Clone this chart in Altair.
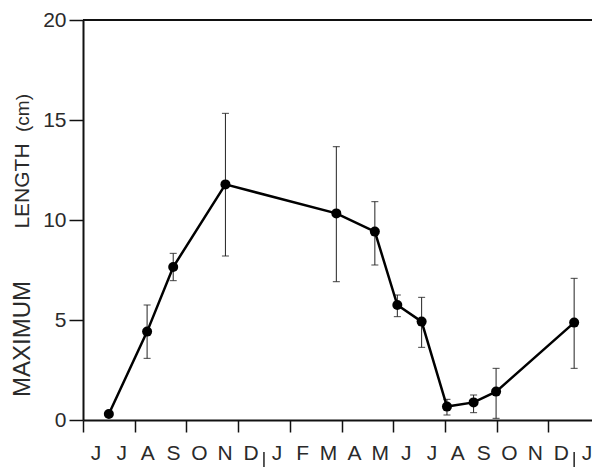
import altair as alt
import pandas as pd

# Data
months = ["J", "J", "A", "S", "O", "N", "D", "J", "F", "M", "A", "M",
          "J", "J", "A", "S", "O", "N", "D", "J"]
x_pos = [1.0, 2.48, 3.49, 5.51, 9.80, 11.29, 12.16, 13.10, 14.08, 15.11, 15.98, 19.0]
length = [0.3, 4.42, 7.65, 11.78, 10.33, 9.42, 5.75, 4.92, 0.67, 0.88, 1.42, 4.87]
err_hi = [0.3, 5.75, 8.33, 15.33, 13.67, 10.92, 6.25, 6.13, 1.03, 1.25, 2.58, 7.08]
err_lo = [0.3, 3.08, 6.97, 8.20, 6.92, 7.75, 5.17, 3.63, 0.25, 0.37, 0.08, 2.58]
year_breaks = [7, 19]
y_ticks = [0, 5, 10, 15, 20]
x_ticks = list(range(0, 20))

W, H = 509, 400
STEP = 25.85
FONT = "Liberation Sans"
TXT = "#2a2a2a"

df = pd.DataFrame({"x": x_pos, "y": length, "hi": err_hi, "lo": err_lo})
df_err = df[df["hi"] > df["lo"]]
df_months = pd.DataFrame({"m": months, "pos": [i + 0.5 for i in range(len(months))]})
df_breaks = pd.DataFrame({"pos": year_breaks})

xs = alt.Scale(domain=[0, W / STEP], nice=False, zero=False)
ys = alt.Scale(domain=[0, 20], nice=False)

x_axis = alt.Axis(values=x_ticks, labels=False, title=None, grid=False,
                  tickSize=12, tickWidth=1.5, tickColor="#111",
                  domainWidth=2, domainColor="#111")
y_axis = alt.Axis(values=y_ticks, title=None, grid=False, tickSize=14,
                  tickWidth=1.5, tickColor="#111", domainWidth=2,
                  domainColor="#111", labelFontSize=21, labelFont=FONT,
                  labelColor=TXT, labelPadding=3)

base = alt.Chart(df)

line = base.mark_line(color="black", strokeWidth=2.5).encode(
    x=alt.X("x:Q", scale=xs, axis=x_axis),
    y=alt.Y("y:Q", scale=ys, axis=y_axis),
)
pts = base.mark_circle(color="black", size=100, opacity=1).encode(
    x=alt.X("x:Q", scale=xs), y=alt.Y("y:Q", scale=ys))

err = alt.Chart(df_err).mark_rule(color="#222", strokeWidth=1).encode(
    x=alt.X("x:Q", scale=xs), y=alt.Y("lo:Q", scale=ys), y2="hi:Q")
cap_hi = alt.Chart(df_err).mark_tick(color="#222", size=7, thickness=1.2,
                                     orient="horizontal").encode(
    x=alt.X("x:Q", scale=xs), y=alt.Y("hi:Q", scale=ys))
cap_lo = alt.Chart(df_err).mark_tick(color="#222", size=7, thickness=1.2,
                                     orient="horizontal").encode(
    x=alt.X("x:Q", scale=xs), y=alt.Y("lo:Q", scale=ys))

month_txt = alt.Chart(df_months).mark_text(
    font=FONT, fontSize=21, color=TXT, baseline="middle", align="center"
).encode(x=alt.X("pos:Q", scale=xs), y=alt.value(434), text="m:N")

breaks = alt.Chart(df_breaks).mark_rule(color="#222", strokeWidth=1.5).encode(
    x=alt.X("pos:Q", scale=xs), y=alt.value(432), y2=alt.value(447))

one = pd.DataFrame({"a": [0]})
top = alt.Chart(one).mark_rule(color="#111", strokeWidth=2).encode(
    x=alt.value(0), x2=alt.value(W), y=alt.value(0))

t1 = alt.Chart(one).mark_text(font=FONT, fontSize=24, color=TXT, angle=270,
                              align="center", baseline="middle").encode(
    x=alt.value(-60), y=alt.value(319), text=alt.value("MAXIMUM"))
t2 = alt.Chart(one).mark_text(font=FONT, fontSize=21, color=TXT, angle=270,
                              align="center", baseline="middle").encode(
    x=alt.value(-60), y=alt.value(166), text=alt.value("LENGTH"))
t3 = alt.Chart(one).mark_text(font=FONT, fontSize=19, color=TXT, angle=270,
                              align="center", baseline="middle").encode(
    x=alt.value(-60), y=alt.value(93), text=alt.value("(cm)"))

chart = alt.layer(top, err, cap_hi, cap_lo, line, pts, month_txt, breaks, t1, t2, t3).properties(
    width=W, height=H,
    autosize=alt.AutoSizeParams(type="none"),
    padding={"left": 75, "top": 12, "right": 0, "bottom": 50},
).configure_view(stroke=None)

chart.save("out.html", embed_options={"renderer": "svg", "actions": False})
